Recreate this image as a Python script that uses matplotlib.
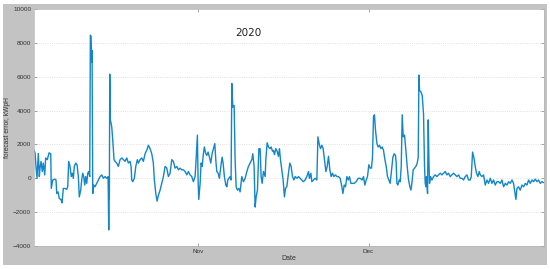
import numpy as np
import pandas as pd
import matplotlib
matplotlib.use("Agg")
import matplotlib.pyplot as plt
import matplotlib.dates as mdates
from matplotlib.patches import Rectangle

# forecast error series
# time is given as days since 2020-10-03 00:00
start = "2020-10-03"
days = [0.00, 0.18, 0.35, 0.53, 0.76, 0.94, 1.06, 1.24, 1.46, 1.64, 1.89, 2.06, 2.35, 2.65, 2.95,
        3.05, 3.30, 3.71, 3.88, 4.01, 4.24, 4.46, 4.76, 4.94, 5.17, 5.47, 5.77, 5.95, 6.12, 6.35,
        6.58, 6.76, 6.94, 7.11, 7.36, 7.59, 7.82, 7.99, 8.24, 8.42, 8.59, 8.77, 8.95, 9.12, 9.30,
        9.48, 9.65, 9.83, 9.94, 10.06, 10.18, 10.24, 10.36, 10.54, 10.76, 11.06, 11.35, 11.65,
        11.95, 12.23, 12.53, 12.83, 13.06, 13.11, 13.18, 13.24, 13.29, 13.36, 13.47, 13.71, 13.89,
        14.12, 14.29, 14.59, 14.88, 15.18, 15.48, 15.76, 16.06, 16.36, 16.64, 16.94, 17.12, 17.24,
        17.42, 17.70, 17.95, 18.23, 18.41, 18.71, 19.01, 19.29, 19.59, 19.89, 20.17, 20.47, 20.77,
        21.05, 21.23, 21.48, 21.71, 21.94, 22.24, 22.53, 22.82, 23.12, 23.42, 23.70, 24.00, 24.30,
        24.58, 24.88, 25.18, 25.46, 25.76, 26.06, 26.35, 26.65, 26.95, 27.23, 27.53, 27.83, 28.11,
        28.41, 28.59, 28.82, 28.94, 29.06, 29.30, 29.47, 29.65, 29.88, 30.05, 30.30, 30.48, 30.71,
        30.94, 31.18, 31.41, 31.64, 31.89, 32.06, 32.24, 32.47, 32.70, 32.95, 33.18, 33.35, 33.58,
        33.83, 34.01, 34.18, 34.36, 34.59, 34.76, 34.89, 35.07, 35.30, 35.47, 35.65, 35.88, 36.12,
        36.35, 36.65, 36.94, 37.24, 37.54, 37.82, 38.12, 38.42, 38.59, 38.82, 39.00, 39.18, 39.41,
        39.66, 39.88, 40.06, 40.24, 40.47, 40.77, 40.89, 41.12, 41.36, 41.59, 41.82, 42.06, 42.23,
        42.41, 42.65, 42.88, 43.11, 43.29, 43.47, 43.71, 43.94, 44.17, 44.35, 44.59, 44.88, 45.12,
        45.35, 45.59, 45.83, 46.06, 46.36, 46.64, 46.94, 47.24, 47.52, 47.82, 48.12, 48.41, 48.58,
        48.83, 49.00, 49.29, 49.59, 49.89, 50.07, 50.29, 50.53, 50.77, 51.00, 51.23, 51.48, 51.71,
        51.94, 52.18, 52.41, 52.64, 52.89, 53.17, 53.42, 53.70, 54.00, 54.30, 54.48, 54.71, 54.94,
        55.18, 55.41, 55.64, 55.89, 56.12, 56.47, 56.82, 57.18, 57.53, 57.88, 58.11, 58.36, 58.59,
        58.82, 59.06, 59.29, 59.52, 59.70, 59.88, 60.05, 60.23, 60.48, 60.71, 60.94, 61.18, 61.41,
        61.64, 61.89, 62.12, 62.35, 62.59, 62.82, 63.06, 63.30, 63.53, 63.76, 63.88, 64.00, 64.18,
        64.41, 64.59, 64.77, 64.94, 65.12, 65.35, 65.59, 65.82, 66.06, 66.30, 66.48, 66.65, 66.88,
        67.11, 67.36, 67.59, 67.77, 67.89, 68.00, 68.24, 68.47, 68.70, 68.88, 69.00, 69.12, 69.23,
        69.41, 69.53, 69.65, 69.76, 69.94, 70.18, 70.47, 70.77, 71.06, 71.35, 71.65, 71.95, 72.23,
        72.53, 72.83, 73.11, 73.41, 73.71, 73.99, 74.29, 74.59, 74.88, 75.18, 75.48, 75.76, 76.06,
        76.36, 76.64, 76.94, 77.12, 77.35, 77.60, 77.82, 78.05, 78.29, 78.53, 78.71, 79.00, 79.29,
        79.59, 79.89, 80.17, 80.47, 80.77, 81.05, 81.35, 81.65, 81.93, 82.24, 82.53, 82.82, 83.12,
        83.42, 83.70, 84.00, 84.30, 84.58, 84.88, 85.00, 85.18, 85.46, 85.76, 86.06, 86.35, 86.65,
        86.95, 87.23, 87.53, 87.83, 88.11, 88.41, 88.71, 88.99, 89.29, 89.59, 89.82, 89.95]
error = [1670, 1500, 700, 0, 1470, 100, 600, 1000, 400, 900, 200, 1200, 1100, 1500, 1450,
         -600, -100, -50, -100, -900, -800, -1200, -1250, -1450, -600, -600, -650, -500, 1000, 700,
         100, 300, 0, 700, 900, 800, 100, -1100, -700, -100, 300, 100, -400, 100, -300,
         300, 400, 100, 8450, 8400, 6850, 7550, -900, -400, -500, -300, -100, 100,
         200, 0, 100, 0, 100, -1000, -3050, -1200, -1200, 6150, 3450, 3050, 2250,
         1100, 1000, 900, 700, 1100, 1200, 1100, 1000, 1200, 900, 1000, 700, -100,
         -200, 0, 700, 1100, 900, 1100, 1200, 1000, 1450, 1650, 1950, 1750, 1450,
         900, -100, -900, -1350, -1000, -700, -300, 100, 700, 600, 100, 300, 1100,
         1000, 600, 700, 500, 600, 500, 500, 400, 200, 400, 200, 100, -200,
         100, 1100, 2550, -100, -1250, -300, 900, 700, 1450, 1850, 1450, 1350, 1550,
         1250, 900, 1450, 1750, 2050, 1100, 400, 300, 0, 700, 1250, 900, 100,
         -400, -500, -100, 0, 100, -100, 5600, 4200, 4300, 1100, -500, -700, -600,
         -800, 100, -200, 0, 400, 700, 900, 1100, 1450, 700, -1700, -1100, -700,
         1750, 1750, 100, -300, 400, 100, 1100, 2100, 1850, 1750, 1850, 1600, 1650,
         1400, 1750, 1600, 1300, 1750, 1100, 500, -100, -1100, -600, -500, 300, 900,
         700, 100, -100, 100, 0, 100, 0, -100, -200, -100, 100, 400, 0,
         300, -200, -100, 0, -100, 2450, 2050, 1750, 1950, 1750, 1100, 400, 700,
         1300, 500, 100, 300, 100, 200, 100, 100, 0, -500, -900, -400, -500,
         100, -100, 100, -300, -300, -300, -200, 0, 0, -100, 100, -400, -100,
         100, 800, 600, 600, 1250, 3650, 3750, 2850, 2050, 1850, 1950, 1750, 1850,
         1650, 1100, 700, 100, -100, -300, 500, 1250, 1450, 1350, 900, -300, -400,
         -100, -200, 700, 3750, 2450, 2550, 1650, 700, -100, -500, -700, -300, 500,
         600, 700, 900, 1250, 6100, 5200, 5100, 4900, 3800, 700, -300, -500, 100,
         -900, 3450, 1100, -300, 100, -100, 100, 200, 100, 200, 300, 200, 300,
         400, 200, 300, 100, 200, 300, 200, 100, 200, 0, 0, -100, 100,
         200, -100, -100, 100, 1550, 1200, 700, 300, 100, 400, 200, 100, 200,
         -400, -100, -300, 0, -300, -100, -400, -200, -200, -300, -100, -500, -300,
         -400, -200, -300, -100, -300, -1000, -1250, -600, -500, -700, -400, -500, -300,
         -400, -100, -300, -100, -200, -50, -200, -100, -300, -200, -250, -250]

y_ticks = [-4000, -2000, 0, 2000, 4000, 6000, 8000, 10000]
title_text = "2020"

dates = pd.Timestamp(start) + pd.to_timedelta(np.array(days), unit="D")

plt.rcParams['font.family'] = ['Liberation Sans', 'DejaVu Sans']

fig = plt.figure(figsize=(5.5, 2.69), dpi=100)
fig.patch.set_facecolor("white")
fig.patches.append(Rectangle((3 / 550, 4 / 269), 544 / 550, 261 / 269,
                             transform=fig.transFigure, facecolor="#c3c3c3",
                             edgecolor="none", zorder=-10))

ax = fig.add_axes([34 / 550, 23 / 269, 510 / 550, 237 / 269])
ax.set_facecolor("white")
ax.plot(dates, error, color="#1286c9", lw=1.0)

ax.set_ylim(-4000, 10000)
ax.set_yticks(y_ticks)
ax.set_xlim(dates[0], dates[-1])
ax.xaxis.set_major_locator(mdates.MonthLocator(bymonth=[11, 12]))
ax.xaxis.set_major_formatter(mdates.DateFormatter("%b"))

ax.grid(axis="y", color="#d8d8d8", linestyle=":", linewidth=0.6)
ax.tick_params(direction="in", length=2, width=0.5, color="#808080",
               labelsize=4.6, labelcolor="#333333", top=True, right=True, pad=2)
for s in ax.spines.values():
    s.set_color("#b5b5b5")
    s.set_linewidth(0.5)

ax.set_ylabel("forecast error, kWpH", fontsize=4.8, color="#333333")
ax.yaxis.set_label_coords(-0.046, 0.5)
ax.set_xlabel("Date", fontsize=5, color="#333333", labelpad=1)
ax.text(0.42, 0.90, title_text, transform=ax.transAxes, fontsize=7.5,
        color="#222222", ha="center", va="center", family="DejaVu Sans")

fig.savefig("out.png", dpi=100)
